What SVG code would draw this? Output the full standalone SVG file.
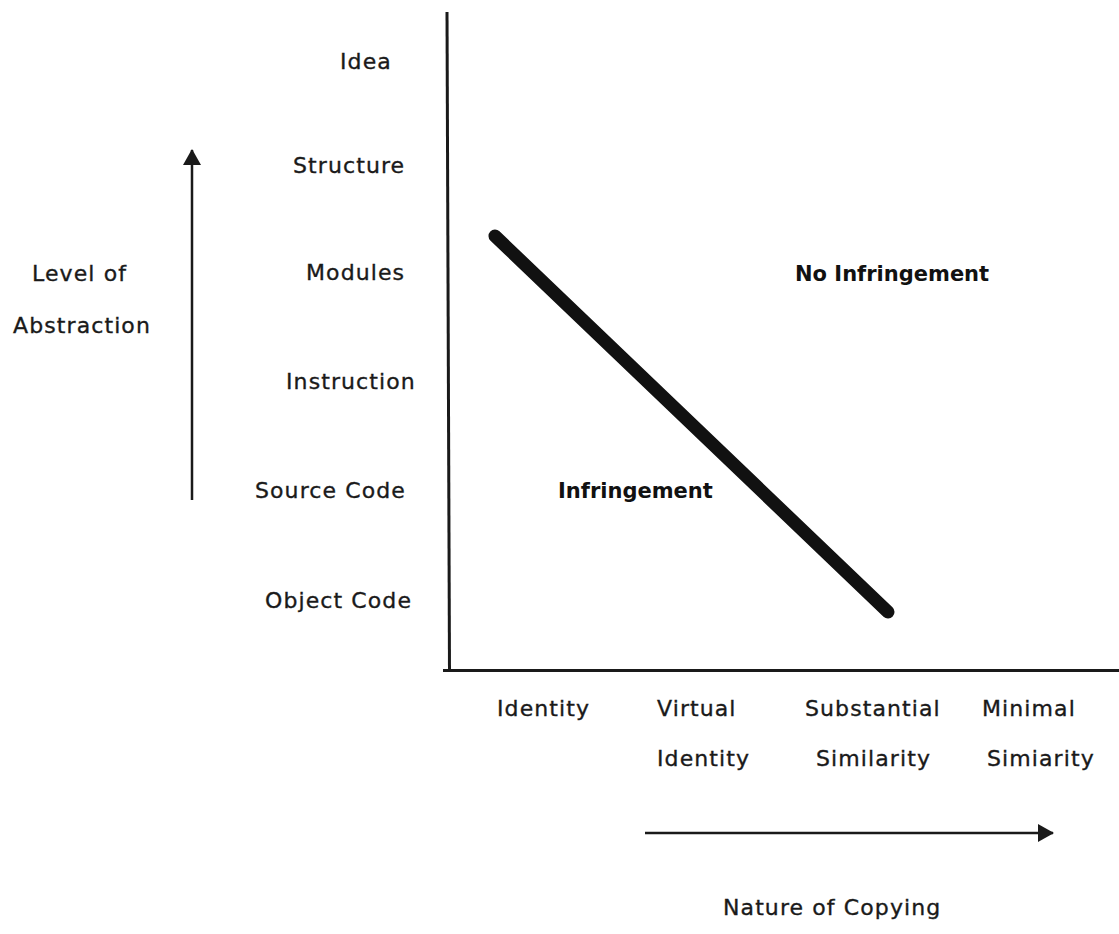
<svg xmlns="http://www.w3.org/2000/svg" width="1119" height="934" viewBox="0 0 1119 934">
<style>
.t{font-family:"DejaVu Sans","Liberation Sans",sans-serif;font-size:22px;letter-spacing:1.1px;fill:#1a1a1a;stroke:#1a1a1a;stroke-width:0.35}
.b{font-family:"DejaVu Sans","Liberation Sans",sans-serif;font-size:21px;font-weight:bold;fill:#111}
.ax{stroke:#1a1a1a;stroke-width:3;fill:none}
.ar{stroke:#1a1a1a;stroke-width:2.5;fill:none}
</style>
<defs>
<marker id="ah" viewBox="0 0 16 18" refX="15" refY="9" markerWidth="16" markerHeight="18" markerUnits="userSpaceOnUse" orient="auto">
<path d="M0,0 L16,9 L0,18 Z" fill="#1a1a1a"/>
</marker>
</defs>
<rect width="1119" height="934" fill="#ffffff"/>
<g id="connectors">
<line class="ax" x1="447" y1="12" x2="449.5" y2="671"/>
<line class="ax" x1="443" y1="670.5" x2="1119" y2="670.5"/>
<line x1="495" y1="236" x2="888" y2="612" stroke="#111" stroke-width="13" stroke-linecap="round"/>
<line class="ar" x1="192" y1="500" x2="192" y2="150" marker-end="url(#ah)"/>
<line class="ar" x1="645" y1="833" x2="1053" y2="833" marker-end="url(#ah)"/>
</g>
<g id="y-labels">
<text class="t" x="340" y="69">Idea</text>
<text class="t" x="293" y="173">Structure</text>
<text class="t" x="306" y="280">Modules</text>
<text class="t" x="286" y="389">Instruction</text>
<text class="t" x="255" y="498">Source Code</text>
<text class="t" x="265" y="608">Object Code</text>
</g>
<g id="y-title">
<text class="t" x="32" y="281">Level of</text>
<text class="t" x="13" y="333">Abstraction</text>
</g>
<g id="regions">
<text class="b" x="795" y="281">No Infringement</text>
<text class="b" x="558" y="498">Infringement</text>
</g>
<g id="x-labels">
<text class="t" x="497" y="716">Identity</text>
<text class="t" x="657" y="716">Virtual</text>
<text class="t" x="657" y="766">Identity</text>
<text class="t" x="805" y="716">Substantial</text>
<text class="t" x="816" y="766">Similarity</text>
<text class="t" x="982" y="716">Minimal</text>
<text class="t" x="987" y="766">Simiarity</text>
</g>
<g id="x-title">
<text class="t" x="723" y="915">Nature of Copying</text>
</g>
</svg>
